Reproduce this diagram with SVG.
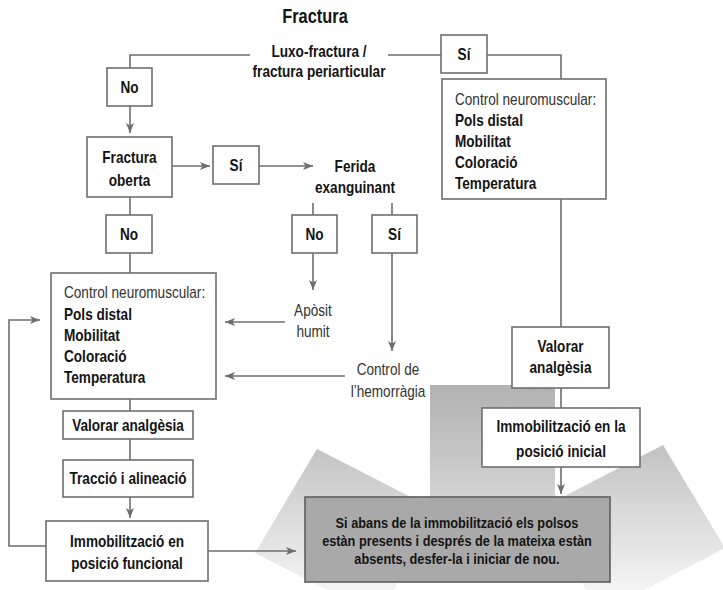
<svg xmlns="http://www.w3.org/2000/svg" width="723" height="590" viewBox="0 0 723 590">
<style>
text{font-family:"Liberation Sans",Arial,sans-serif;font-size:16px;fill:#141414}
.b{font-weight:bold}
.c{text-anchor:middle}
.l{fill:#333}
.s{font-size:15px}
.box{fill:#fff;stroke:#6e6e6e;stroke-width:1.6}
.ln{fill:none;stroke:#6e6e6e;stroke-width:1.6}
</style>
<defs>
<marker id="ar" markerUnits="userSpaceOnUse" markerWidth="12" markerHeight="10" refX="10" refY="5" orient="auto">
<path d="M0,1 L10,5 L0,9 L2.5,5 z" fill="#6e6e6e"/>
</marker>
<linearGradient id="bg" gradientUnits="userSpaceOnUse" x1="0" y1="385" x2="0" y2="590">
<stop offset="0" stop-color="#b2b2b2"/>
<stop offset="0.35" stop-color="#c6c6c6"/>
<stop offset="1" stop-color="#f4f4f4"/>
</linearGradient>
</defs>
<rect width="723" height="590" fill="#fff"/>
<g id="background">
<polygon points="317,449 440,512 378,616 255,553" fill="url(#bg)"/>
<polygon points="663,445 538,510 600,613 725,548" fill="url(#bg)"/>
<rect x="430" y="385" width="125" height="130" fill="url(#bg)"/>
</g>
<g id="connectors">
<polyline class="ln" points="250,55 130,55 130,68"/>
<line class="ln" x1="130" y1="106" x2="130" y2="133" marker-end="url(#ar)"/>
<line class="ln" x1="172" y1="166" x2="210" y2="166" marker-end="url(#ar)"/>
<line class="ln" x1="259" y1="166" x2="313" y2="166" marker-end="url(#ar)"/>
<line class="ln" x1="388" y1="55" x2="441" y2="55"/>
<polyline class="ln" points="487,55 561,55 561,79"/>
<line class="ln" x1="561" y1="199" x2="561" y2="327"/>
<line class="ln" x1="561" y1="388" x2="561" y2="408"/>
<line class="ln" x1="561" y1="467" x2="561" y2="494" marker-end="url(#ar)"/>
<line class="ln" x1="130" y1="197" x2="130" y2="215"/>
<line class="ln" x1="130" y1="253" x2="130" y2="273"/>
<line class="ln" x1="313" y1="203" x2="313" y2="215"/>
<line class="ln" x1="392" y1="203" x2="392" y2="215"/>
<line class="ln" x1="313" y1="253" x2="313" y2="290" marker-end="url(#ar)"/>
<line class="ln" x1="392" y1="253" x2="392" y2="351" marker-end="url(#ar)"/>
<line class="ln" x1="285" y1="322" x2="225" y2="322" marker-end="url(#ar)"/>
<line class="ln" x1="345" y1="376" x2="225" y2="376" marker-end="url(#ar)"/>
<line class="ln" x1="130" y1="399" x2="130" y2="411"/>
<line class="ln" x1="130" y1="439" x2="130" y2="460"/>
<line class="ln" x1="130" y1="497" x2="130" y2="518" marker-end="url(#ar)"/>
<line class="ln" x1="208" y1="551" x2="296" y2="551" marker-end="url(#ar)"/>
<polyline class="ln" points="46,546 9,546 9,320 40,320" marker-end="url(#ar)"/>
</g>
<g id="title"><text class="b c" transform="matrix(0.82,0,0,1,315,23)" style="font-size:20px">Fractura</text></g>
<g id="luxo">
<text class="b c" transform="matrix(0.85,0,0,1,319,57)">Luxo-fractura /</text>
<text class="b c" transform="matrix(0.85,0,0,1,319,77)">fractura periarticular</text>
</g>
<g id="no1"><rect class="box" x="107" y="68" width="45" height="38"/><text class="b c" transform="matrix(0.85,0,0,1,129.5,93)">No</text></g>
<g id="fractura-oberta"><rect class="box" x="87" y="137" width="85" height="60"/>
<text class="b c" transform="matrix(0.85,0,0,1,129.5,163)">Fractura</text><text class="b c" transform="matrix(0.85,0,0,1,129.5,186)">oberta</text></g>
<g id="si1"><rect class="box" x="213" y="146" width="46" height="38"/><text class="b c" transform="matrix(0.85,0,0,1,236,171)">Sí</text></g>
<g id="ferida"><text class="b c" transform="matrix(0.85,0,0,1,355,172)">Ferida</text><text class="b c" transform="matrix(0.85,0,0,1,355,193)">exanguinant</text></g>
<g id="si-top"><rect class="box" x="441" y="35" width="46" height="38"/><text class="b c" transform="matrix(0.85,0,0,1,464,60)">Sí</text></g>
<g id="control-right"><rect class="box" x="442" y="79" width="164" height="120"/>
<text class="l" transform="matrix(0.85,0,0,1,455,105)">Control neuromuscular:</text>
<text class="b" transform="matrix(0.85,0,0,1,455,126)">Pols distal</text>
<text class="b" transform="matrix(0.85,0,0,1,455,147)">Mobilitat</text>
<text class="b" transform="matrix(0.85,0,0,1,455,168)">Coloració</text>
<text class="b" transform="matrix(0.85,0,0,1,455,189)">Temperatura</text></g>
<g id="valorar-right"><rect class="box" x="512" y="327" width="97" height="61"/>
<text class="b c" transform="matrix(0.85,0,0,1,560.5,352)">Valorar</text><text class="b c" transform="matrix(0.85,0,0,1,560.5,373)">analgèsia</text></g>
<g id="immob-inicial"><rect class="box" x="482" y="408" width="158" height="59"/>
<text class="b c" transform="matrix(0.85,0,0,1,561,432)">Immobilització en la</text><text class="b c" transform="matrix(0.85,0,0,1,561,457)">posició inicial</text></g>
<g id="no2"><rect class="box" x="106" y="215" width="46" height="38"/><text class="b c" transform="matrix(0.85,0,0,1,129,240)">No</text></g>
<g id="no3"><rect class="box" x="292" y="215" width="45" height="38"/><text class="b c" transform="matrix(0.85,0,0,1,314.5,240)">No</text></g>
<g id="si3"><rect class="box" x="372" y="215" width="45" height="38"/><text class="b c" transform="matrix(0.85,0,0,1,394.5,240)">Sí</text></g>
<g id="aposit"><text class="l c" transform="matrix(0.85,0,0,1,313,316)">Apòsit</text><text class="l c" transform="matrix(0.85,0,0,1,313,337)">humit</text></g>
<g id="control-hemorragia"><text class="l c" transform="matrix(0.85,0,0,1,388,375)">Control de</text><text class="l c" transform="matrix(0.85,0,0,1,388,397)">l’hemorràgia</text></g>
<g id="control-left"><rect class="box" x="51" y="273" width="165" height="126"/>
<text class="l" transform="matrix(0.85,0,0,1,64,298)">Control neuromuscular:</text>
<text class="b" transform="matrix(0.85,0,0,1,64,320)">Pols distal</text>
<text class="b" transform="matrix(0.85,0,0,1,64,341)">Mobilitat</text>
<text class="b" transform="matrix(0.85,0,0,1,64,362)">Coloració</text>
<text class="b" transform="matrix(0.85,0,0,1,64,383)">Temperatura</text></g>
<g id="valorar-left"><rect class="box" x="63" y="411" width="130" height="28"/><text class="b c" transform="matrix(0.85,0,0,1,128,431)">Valorar analgèsia</text></g>
<g id="traccio"><rect class="box" x="63" y="460" width="130" height="37"/><text class="b c" transform="matrix(0.85,0,0,1,128,484)">Tracció i alineació</text></g>
<g id="immob-funcional"><rect class="box" x="46" y="521" width="162" height="60"/>
<text class="b c" transform="matrix(0.85,0,0,1,127,547)">Immobilització en</text><text class="b c" transform="matrix(0.85,0,0,1,127,569)">posició funcional</text></g>
<g id="avis"><rect x="305" y="497" width="305" height="85" fill="#a9a9a9" stroke="#5e5e5e" stroke-width="1.6"/>
<text class="b c s" transform="matrix(0.85,0,0,1,457,528)">Si abans de la immobilització els polsos</text>
<text class="b c s" transform="matrix(0.85,0,0,1,457,546)">estàn presents i després de la mateixa estàn</text>
<text class="b c s" transform="matrix(0.85,0,0,1,457,564)">absents, desfer-la i iniciar de nou.</text></g>
</svg>
